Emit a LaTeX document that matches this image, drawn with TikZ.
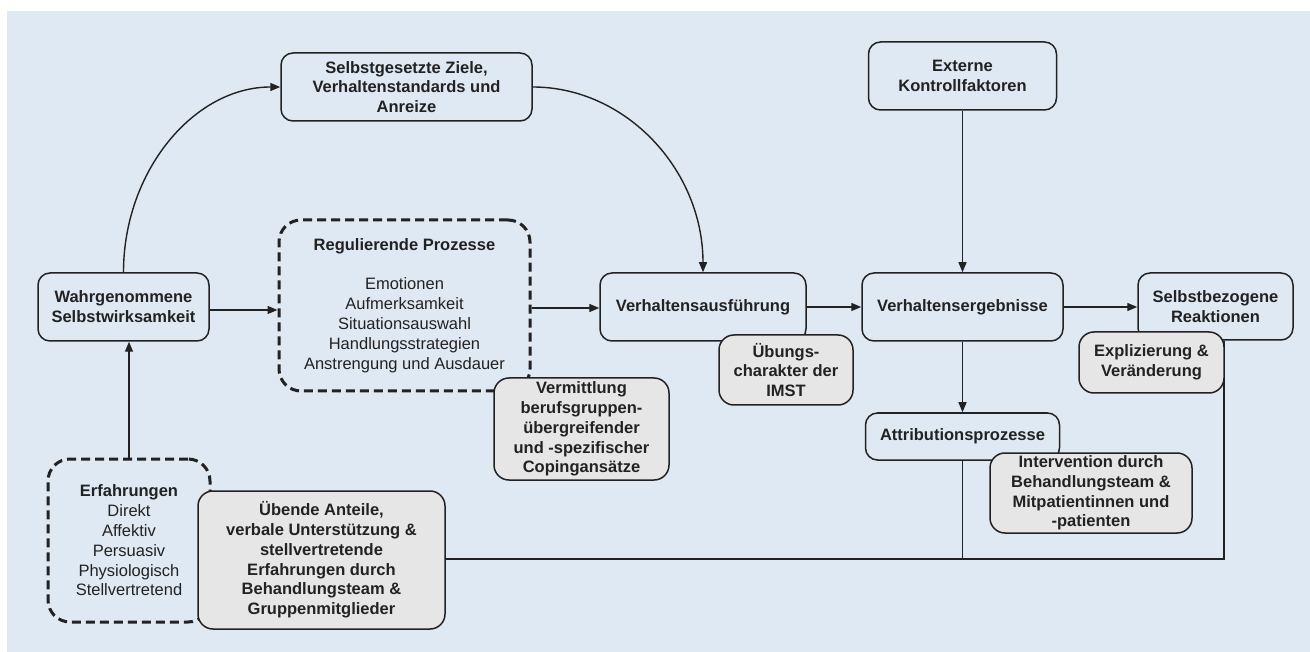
\documentclass[tikz,border=0pt]{standalone}
\usepackage{fontspec}
\setmainfont{Liberation Sans}
\usetikzlibrary{arrows.meta}
\definecolor{bg}{RGB}{223,233,243}
\definecolor{gbox}{RGB}{230,230,230}
\definecolor{ink}{RGB}{34,34,34}
\tikzset{
  base/.style={align=center, inner sep=0pt, text=ink,
    font=\fontsize{16.5}{19.8}\selectfont\bfseries},
  box/.style={base, draw=ink, line width=1.5pt, rounded corners=12pt, fill=bg},
  gray box/.style={base, draw=ink, line width=1.5pt, rounded corners=15pt, fill=gbox},
  dash box/.style={base, draw=ink, line width=3pt, rounded corners=22pt,
    dash pattern=on 9pt off 5pt, fill=bg},
  conn/.style={draw=ink, line width=1.4pt},
  arr/.style={conn, -{Triangle[length=10pt,width=8pt]}}
}
\begin{document}
\begin{tikzpicture}[x=1pt,y=-1pt]
\useasboundingbox (0,0) rectangle (1310,652);
\fill[white] (0,0) rectangle (1310,652);
\fill[bg] (7,11) rectangle (1310,652);

% main boxes
\node[box, minimum width=171pt, minimum height=68pt] (W) at (123.5,307)
  {Wahrgenommene\\Selbstwirksamkeit};
\node[box, minimum width=251pt, minimum height=68pt] (Z) at (406.5,87)
  {Selbstgesetzte Ziele,\\Verhaltenstandards und\\Anreize};
\node[dash box, minimum width=251pt, minimum height=171pt] (R) at (404.5,305.5)
  {Regulierende Prozesse\\[19.8pt]\mdseries Emotionen\\\mdseries Aufmerksamkeit\\\mdseries Situationsauswahl\\\mdseries Handlungsstrategien\\\mdseries Anstrengung und Ausdauer};
\node[box, minimum width=206pt, minimum height=68pt] (V) at (703,307)
  {Verhaltensausführung};
\node[box, minimum width=201pt, minimum height=68pt] (E) at (962.5,307)
  {Verhaltensergebnisse};
\node[box, minimum width=188pt, minimum height=68pt] (K) at (962.5,76)
  {Externe\\Kontrollfaktoren};
\node[box, minimum width=155pt, minimum height=67pt] (S) at (1215.5,306.5)
  {Selbstbezogene\\Reaktionen};
\node[box, minimum width=194pt, minimum height=47pt] (A) at (962.5,436.5)
  {Attributionsprozesse};
\node[dash box, minimum width=162pt, minimum height=163pt] (F) at (129,540.5)
  {Erfahrungen\\\mdseries Direkt\\\mdseries Affektiv\\\mdseries Persuasiv\\\mdseries Physiologisch\\\mdseries Stellvertretend};

% connectors
\draw[arr] (W.north) .. controls (123.5,171) and (194,87) .. (Z.west);
\draw[arr] (Z.east) .. controls (626,87) and (703,170) .. (V.north);
\draw[arr] ([yshift=-3pt]W.east) -- ([yshift=-3pt]W.east -| R.west);
\draw[arr] ([yshift=-2.5pt]R.east) -- ([yshift=-2.5pt]R.east -| V.west);
\draw[arr] (V.east) -- (E.west);
\draw[arr] (E.east) -- (E.east -| S.west);
\draw[arr] (K.south) -- (E.north);
\draw[arr] (E.south) -- (A.north);
\draw[arr] (F.north) -- (F.north |- W.south);
\coordinate (J) at (1224,559);
\draw[conn] (S.south -| J) -- (J) -- (J -| F.east);
\draw[conn] (A.south) -- (A.south |- J);

% grey boxes
\node[gray box, minimum width=134pt, minimum height=70pt] (U) at (786,370)
  {Übungs-\\charakter der\\IMST};
\node[gray box, minimum width=145pt, minimum height=61pt] (X) at (1151.5,362.5)
  {Explizierung \&\\Veränderung};
\node[gray box, minimum width=202pt, minimum height=80pt] (I) at (1091,493)
  {Intervention durch\\Behandlungsteam \&\\Mitpatientinnen und\\-patienten};
\node[gray box, minimum width=175pt, minimum height=102pt] (M) at (581.5,429)
  {Vermittlung\\berufsgruppen-\\übergreifender\\und -spezifischer\\Copingansätze};
\node[gray box, minimum width=247pt, minimum height=138pt] (O) at (321.5,560)
  {Übende Anteile,\\verbale Unterstützung \&\\stellvertretende\\Erfahrungen durch\\Behandlungsteam \&\\Gruppenmitglieder};
\end{tikzpicture}
\end{document}
